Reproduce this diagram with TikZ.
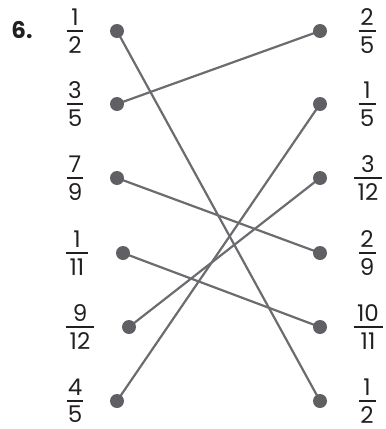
\documentclass[tikz,border=0pt]{standalone}
\usepackage{fontspec}
\setmainfont{Poppins}
\definecolor{ink}{RGB}{35,31,32}
\definecolor{linegray}{RGB}{108,108,112}
\definecolor{dotgray}{RGB}{96,96,100}
\newcommand\fracbox[3]{\vbox{\offinterlineskip\halign{\hfil##\hfil\cr #1\cr\noalign{\kern4.5pt}\rule{#3}{1.8pt}\cr\noalign{\kern4.5pt}#2\cr}}}
\tikzset{
  frac/.style={inner sep=0pt, text=ink, font=\fontsize{23}{26}\selectfont},
  dot/.style={circle, fill=dotgray, minimum size=14pt, inner sep=0pt},
  link/.style={draw=linegray, line width=2.2pt},
  num/.style={text=ink, font=\fontsize{23}{26}\selectfont\bfseries, inner sep=0pt}
}
\begin{document}
\begin{tikzpicture}[x=1pt,y=-1pt]
\useasboundingbox (0,0) rectangle (386,429);
\node[num] (label) at (22,30) {6.};
% left fractions
\node[frac] (lf1) at (75,31) {\fracbox{1}{2}{17pt}};
\node[frac] (lf2) at (75,104) {\fracbox{3}{5}{17pt}};
\node[frac] (lf3) at (75,178) {\fracbox{7}{9}{17pt}};
\node[frac] (lf4) at (77,253) {\fracbox{1}{11}{22pt}};
\node[frac] (lf5) at (80,327) {\fracbox{9}{12}{28pt}};
\node[frac] (lf6) at (75,401) {\fracbox{4}{5}{17pt}};
% right fractions
\node[frac] (rf1) at (367,31) {\fracbox{2}{5}{17pt}};
\node[frac] (rf2) at (367,104) {\fracbox{1}{5}{17pt}};
\node[frac] (rf3) at (368,178) {\fracbox{3}{12}{28pt}};
\node[frac] (rf4) at (367,253) {\fracbox{2}{9}{17pt}};
\node[frac] (rf5) at (368,327) {\fracbox{10}{11}{29pt}};
\node[frac] (rf6) at (367,401) {\fracbox{1}{2}{17pt}};
% dot positions
\coordinate (l1) at (117,31);
\coordinate (l2) at (117,104);
\coordinate (l3) at (117,178);
\coordinate (l4) at (123,253);
\coordinate (l5) at (129,327);
\coordinate (l6) at (117,401);
\coordinate (r1) at (320,31);
\coordinate (r2) at (320,104);
\coordinate (r3) at (320,178);
\coordinate (r4) at (320,253);
\coordinate (r5) at (320,327);
\coordinate (r6) at (320,401);
% connectors
\draw[link] (l1) -- (r6);
\draw[link] (l2) -- (r1);
\draw[link] (l3) -- (r4);
\draw[link] (l4) -- (r5);
\draw[link] (l5) -- (r3);
\draw[link] (l6) -- (r2);
% dots
\foreach \p in {l1,l2,l3,l4,l5,l6,r1,r2,r3,r4,r5,r6}
  \node[dot] (d\p) at (\p) {};
\end{tikzpicture}
\end{document}
